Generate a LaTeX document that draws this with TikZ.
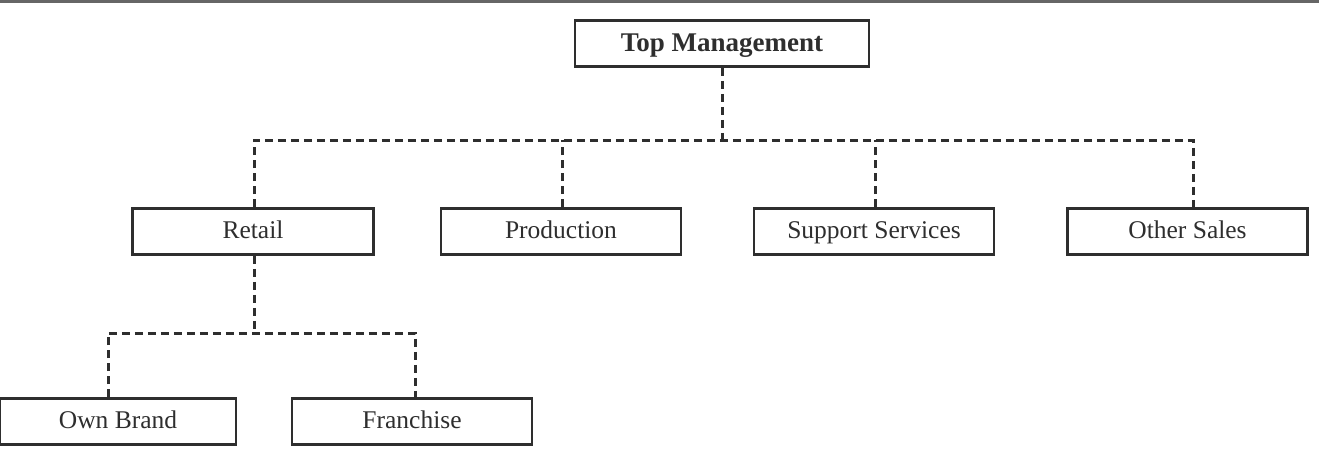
\documentclass[tikz,border=0pt]{standalone}
\usepackage{fontspec}
\setmainfont{Liberation Serif}
\usetikzlibrary{calc}
\definecolor{ink}{HTML}{2E2E2E}
\begin{document}
\begin{tikzpicture}[x=1pt,y=-1pt,
  box/.style={draw=ink, line width=2.6pt, rectangle, minimum height=46pt, inner sep=0pt,
    text height=18pt, text depth=5pt,
    text=ink, font=\fontsize{25.5}{30}\selectfont},
  conn/.style={draw=ink, line width=3pt, dash pattern=on 8pt off 5pt}]
\useasboundingbox (0,0) rectangle (1319,476);
\fill[white] (0,0) rectangle (1319,476);
\draw[gray!80!black, line width=3pt] (0,1.5) -- (1319,1.5);
\node[box, minimum width=294pt, text height=22pt, text depth=5pt, font=\fontsize{27}{30}\selectfont\bfseries] (top) at (722,43.5) {Top Management};
\node[box, minimum width=241pt] (retail) at (253,231.5) {Retail};
\node[box, minimum width=240pt] (prod) at (561,231.5) {Production};
\node[box, minimum width=240pt] (supp) at (874,231.5) {Support Services};
\node[box, minimum width=240pt] (other) at (1187.5,231.5) {Other Sales};
\node[box, minimum width=236pt] (own) at (118,421.5) {Own Brand};
\node[box, minimum width=240pt] (fran) at (412,421.5) {Franchise};
\coordinate (bus) at (722,140);
\coordinate (bus2) at (254,333);
\coordinate (rn) at ($(retail.north)+(1,0)$);
\coordinate (on) at ($(other.north)+(5.5,0)$);
\coordinate (pn) at ($(prod.north)+(1,0)$);
\coordinate (sn) at ($(supp.north)+(1,0)$);
\coordinate (ownn) at ($(own.north)+(-10,0)$);
\coordinate (frn) at ($(fran.north)+(3,0)$);
\draw[conn] (top.south) -- (bus);
\draw[conn] (rn) |- (bus) -| (on);
\draw[conn] (pn) -- (pn |- bus);
\draw[conn] (sn) -- (sn |- bus);
\draw[conn] ($(retail.south)+(1,0)$) -- (bus2);
\draw[conn] (ownn) |- (bus2) -| (frn);
\end{tikzpicture}
\end{document}
